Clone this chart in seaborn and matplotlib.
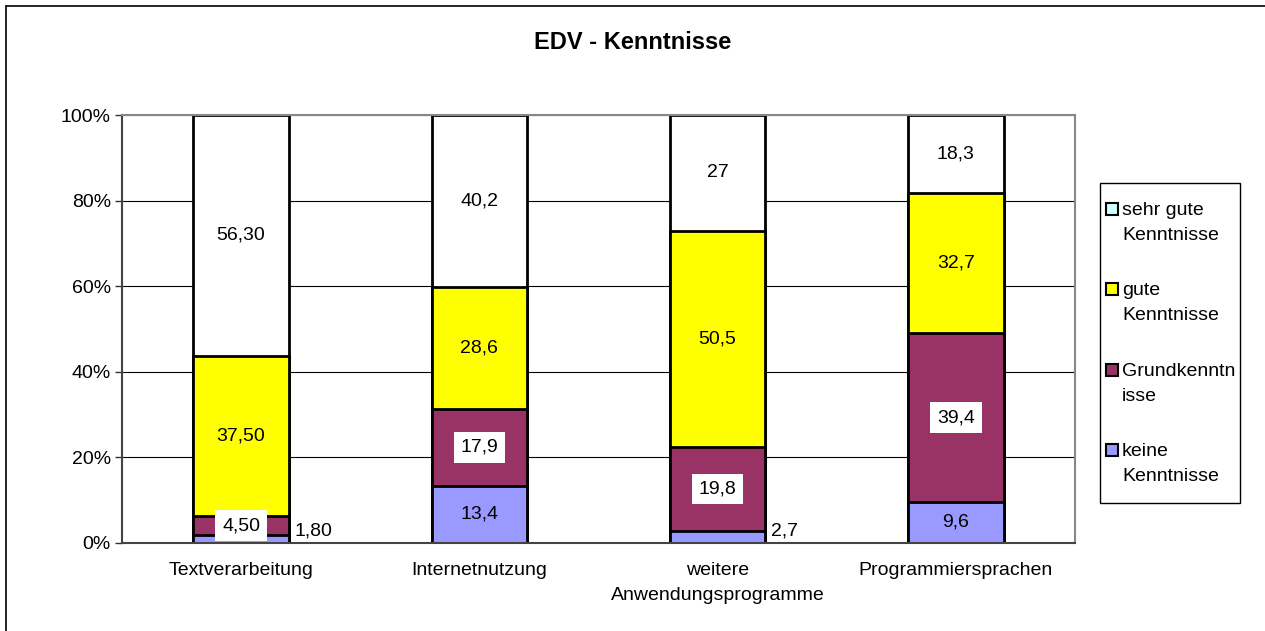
import numpy as np
import pandas as pd
import matplotlib
matplotlib.use("Agg")
import matplotlib.pyplot as plt
import seaborn as sns
from matplotlib.patches import Rectangle
from matplotlib.lines import Line2D

# data
categories = ["Textverarbeitung", "Internetnutzung",
              "weitere\nAnwendungsprogramme", "Programmiersprachen"]
keine = [1.80, 13.4, 2.7, 9.6]
grund = [4.50, 17.9, 19.8, 39.4]
gute = [37.50, 28.6, 50.5, 32.7]
sehr_gute = [56.30, 40.2, 27.0, 18.3]

keine_lbl = ["1,80", "13,4", "2,7", "9,6"]
grund_lbl = ["4,50", "17,9", "19,8", "39,4"]
gute_lbl = ["37,50", "28,6", "50,5", "32,7"]
sehr_gute_lbl = ["56,30", "40,2", "27", "18,3"]

series_names = ["keine\nKenntnisse", "Grundkenntn\nisse", "gute\nKenntnisse", "sehr gute\nKenntnisse"]
bar_colors = ["#9999FF", "#993366", "#FFFF00", "#FFFFFF"]
legend_colors = ["#9999FF", "#993366", "#FFFF00", "#CCFFFF"]

sns.set_style("white")
plt.rcParams["font.family"] = ["Liberation Sans", "DejaVu Sans"]
plt.rcParams["text.color"] = "black"
plt.rcParams["xtick.color"] = "black"
plt.rcParams["ytick.color"] = "black"

FS = 14

df = pd.DataFrame({"cat": categories, "keine": keine, "grund": grund,
                   "gute": gute, "sehr": sehr_gute})
cols = ["keine", "grund", "gute", "sehr"]
totals = df[cols].sum(axis=1)
pct = df[cols].div(totals, axis=0) * 100
cum = pct.cumsum(axis=1)

fig = plt.figure(figsize=(12.65, 6.31), dpi=100)
ax = fig.add_axes([0.0964, 0.1395, 0.7534, 0.6782])

# stacked 100% bars, drawn from the top layer down
for col, color in reversed(list(zip(cols, bar_colors))):
    sns.barplot(x=df["cat"], y=cum[col], color=color, edgecolor="black",
                linewidth=2, width=0.4, saturation=1, ax=ax, zorder=2)

ax.set_ylim(0, 100)
ax.set_xlim(-0.5, 3.5)
ax.set_yticks(np.arange(0, 101, 20))
ax.set_yticklabels([f"{v}%" for v in range(0, 101, 20)], fontsize=FS)
ax.tick_params(axis="y", length=5, width=1, color="#333333", pad=3, left=True)
ax.tick_params(axis="x", length=0, pad=14, labelsize=FS)
for t in ax.get_xticklabels():
    t.set_linespacing(1.6)
    t.set_va("top")
ax.set_xlabel("")
ax.set_ylabel("")
ax.set_axisbelow(True)
ax.yaxis.grid(True, color="black", linewidth=0.8)
for side in ["top", "right"]:
    ax.spines[side].set_color("#888888")
    ax.spines[side].set_linewidth(1.5)
for side in ["left", "bottom"]:
    ax.spines[side].set_color("#444444")
    ax.spines[side].set_linewidth(1.5)

# value labels
for i in range(len(categories)):
    k_mid = cum["keine"][i] - pct["keine"][i] / 2
    if pct["keine"][i] < 5:
        ax.text(i + 0.225, 2.8, keine_lbl[i], ha="left", va="center", fontsize=FS, zorder=5)
    else:
        ax.text(i, k_mid, keine_lbl[i], ha="center", va="center", fontsize=FS, zorder=5)
    g_mid = cum["grund"][i] - pct["grund"][i] / 2
    ax.text(i, g_mid, grund_lbl[i], ha="center", va="center", fontsize=FS, zorder=5,
            bbox=dict(boxstyle="square,pad=0.35", facecolor="white", edgecolor="none"))
    gu_mid = cum["gute"][i] - pct["gute"][i] / 2
    ax.text(i, gu_mid, gute_lbl[i], ha="center", va="center", fontsize=FS, zorder=5)
    s_mid = cum["sehr"][i] - pct["sehr"][i] / 2
    ax.text(i, s_mid, sehr_gute_lbl[i], ha="center", va="center", fontsize=FS, zorder=5)

# title is centred over the whole chart area, not the plot area
fig.text(0.5, 0.933, "EDV - Kenntnisse", ha="center", va="center",
         fontsize=17, fontweight="bold")

# legend box (handle aligned with first text line)
W, H = 1265.0, 631.0
fig.add_artist(Rectangle((1100 / W, 1 - 503 / H), 140 / W, 320 / H,
                         transform=fig.transFigure, facecolor="white",
                         edgecolor="black", linewidth=1.0))
entry_y = [209, 289, 370, 450]
for y, name, color in zip(entry_y, reversed(series_names), reversed(legend_colors)):
    fig.add_artist(Rectangle((1106 / W, 1 - (y + 6) / H), 12 / W, 12 / H,
                             transform=fig.transFigure, facecolor=color,
                             edgecolor="black", linewidth=1.5))
    fig.text(1122 / W, 1 - (y - 7) / H, name, ha="left", va="top",
             fontsize=FS, linespacing=1.6)

# outer chart border (left and top visible)
fig.add_artist(Line2D([0.005, 0.005], [0.0, 0.991], transform=fig.transFigure,
                      color="black", linewidth=1.2))
fig.add_artist(Line2D([0.005, 1.0], [0.991, 0.991], transform=fig.transFigure,
                      color="black", linewidth=1.2))

fig.savefig("out.png", dpi=100)
